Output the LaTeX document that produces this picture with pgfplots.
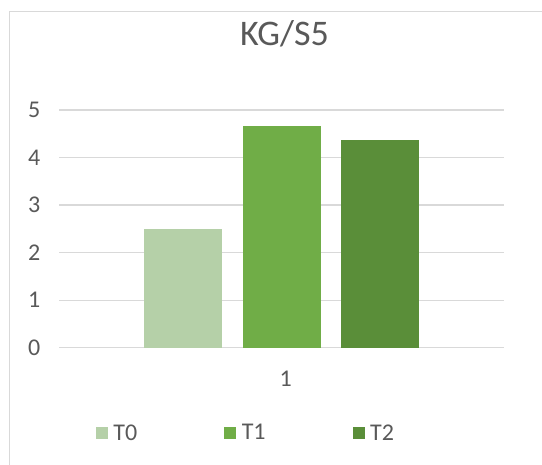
\documentclass[border=0pt]{standalone}
\usepackage{pgfplots}
\pgfplotsset{compat=1.18}
\usepackage{fontspec}
\setmainfont{Carlito}
\definecolor{cT0}{HTML}{B5D0A8}
\definecolor{cT1}{HTML}{70AD47}
\definecolor{cT2}{HTML}{5A8E39}
\definecolor{txt}{HTML}{595959}
\definecolor{gridc}{HTML}{D9D9D9}
\begin{document}
\begin{tikzpicture}[x=1pt,y=1pt]
\path[use as bounding box] (0,0) rectangle (542,465);
\fill[white] (0,0) rectangle (542,465);
\draw[gridc,line width=1.3pt] (9.5,0) -- (9.5,453.5) -- (542,453.5);
\begin{axis}[
  at={(59.3pt,117.3pt)}, anchor=south west,
  scale only axis, width=445pt, height=237.7pt,
  ymin=0, ymax=5, xmin=0.5, xmax=1.5,
  ytick={0,1,2,3,4,5}, xtick={1},
  axis line style={draw=none},
  ymajorgrids=true, xmajorgrids=false,
  grid style={draw=gridc, line width=1.3pt},
  major tick length=0pt, tick style={draw=none},
  tick label style={font=\fontsize{24}{28}\selectfont, text=txt},
  yticklabel style={anchor=center, inner sep=0pt, xshift=-25pt},
  xticklabel style={anchor=center, inner sep=0pt, yshift=-31pt, xshift=4pt},
  /pgf/number format/assume math mode=true,
  title={KG/S5},
  title style={at={(0.506,1.2945)}, anchor=center, inner sep=0pt, font=\fontsize{36}{42}\selectfont, text=txt},
  ybar, bar width=77.7pt,
  legend columns=3,
  legend style={at={(0.0818,-0.359)}, anchor=west, draw=none, inner sep=0pt, fill=none,
    font=\fontsize{24}{28}\selectfont, text=txt,
    nodes={inner sep=0pt, anchor=west},
    /tikz/every odd column/.append style={column sep=5.5pt},
    /tikz/every even column/.append style={column sep=87pt}},
  legend image code/.code={\fill[#1,draw=none] (0pt,-6pt) rectangle (12pt,6pt);},
]
\addplot[fill=cT0, draw=none, bar shift=-98.5pt] coordinates {(1,2.50)};
\addplot[fill=cT1, draw=none, bar shift=0pt] coordinates {(1,4.67)};
\addplot[fill=cT2, draw=none, bar shift=98.5pt] coordinates {(1,4.37)};
\legend{T0,T1,T2}
\end{axis}
\end{tikzpicture}
\end{document}
